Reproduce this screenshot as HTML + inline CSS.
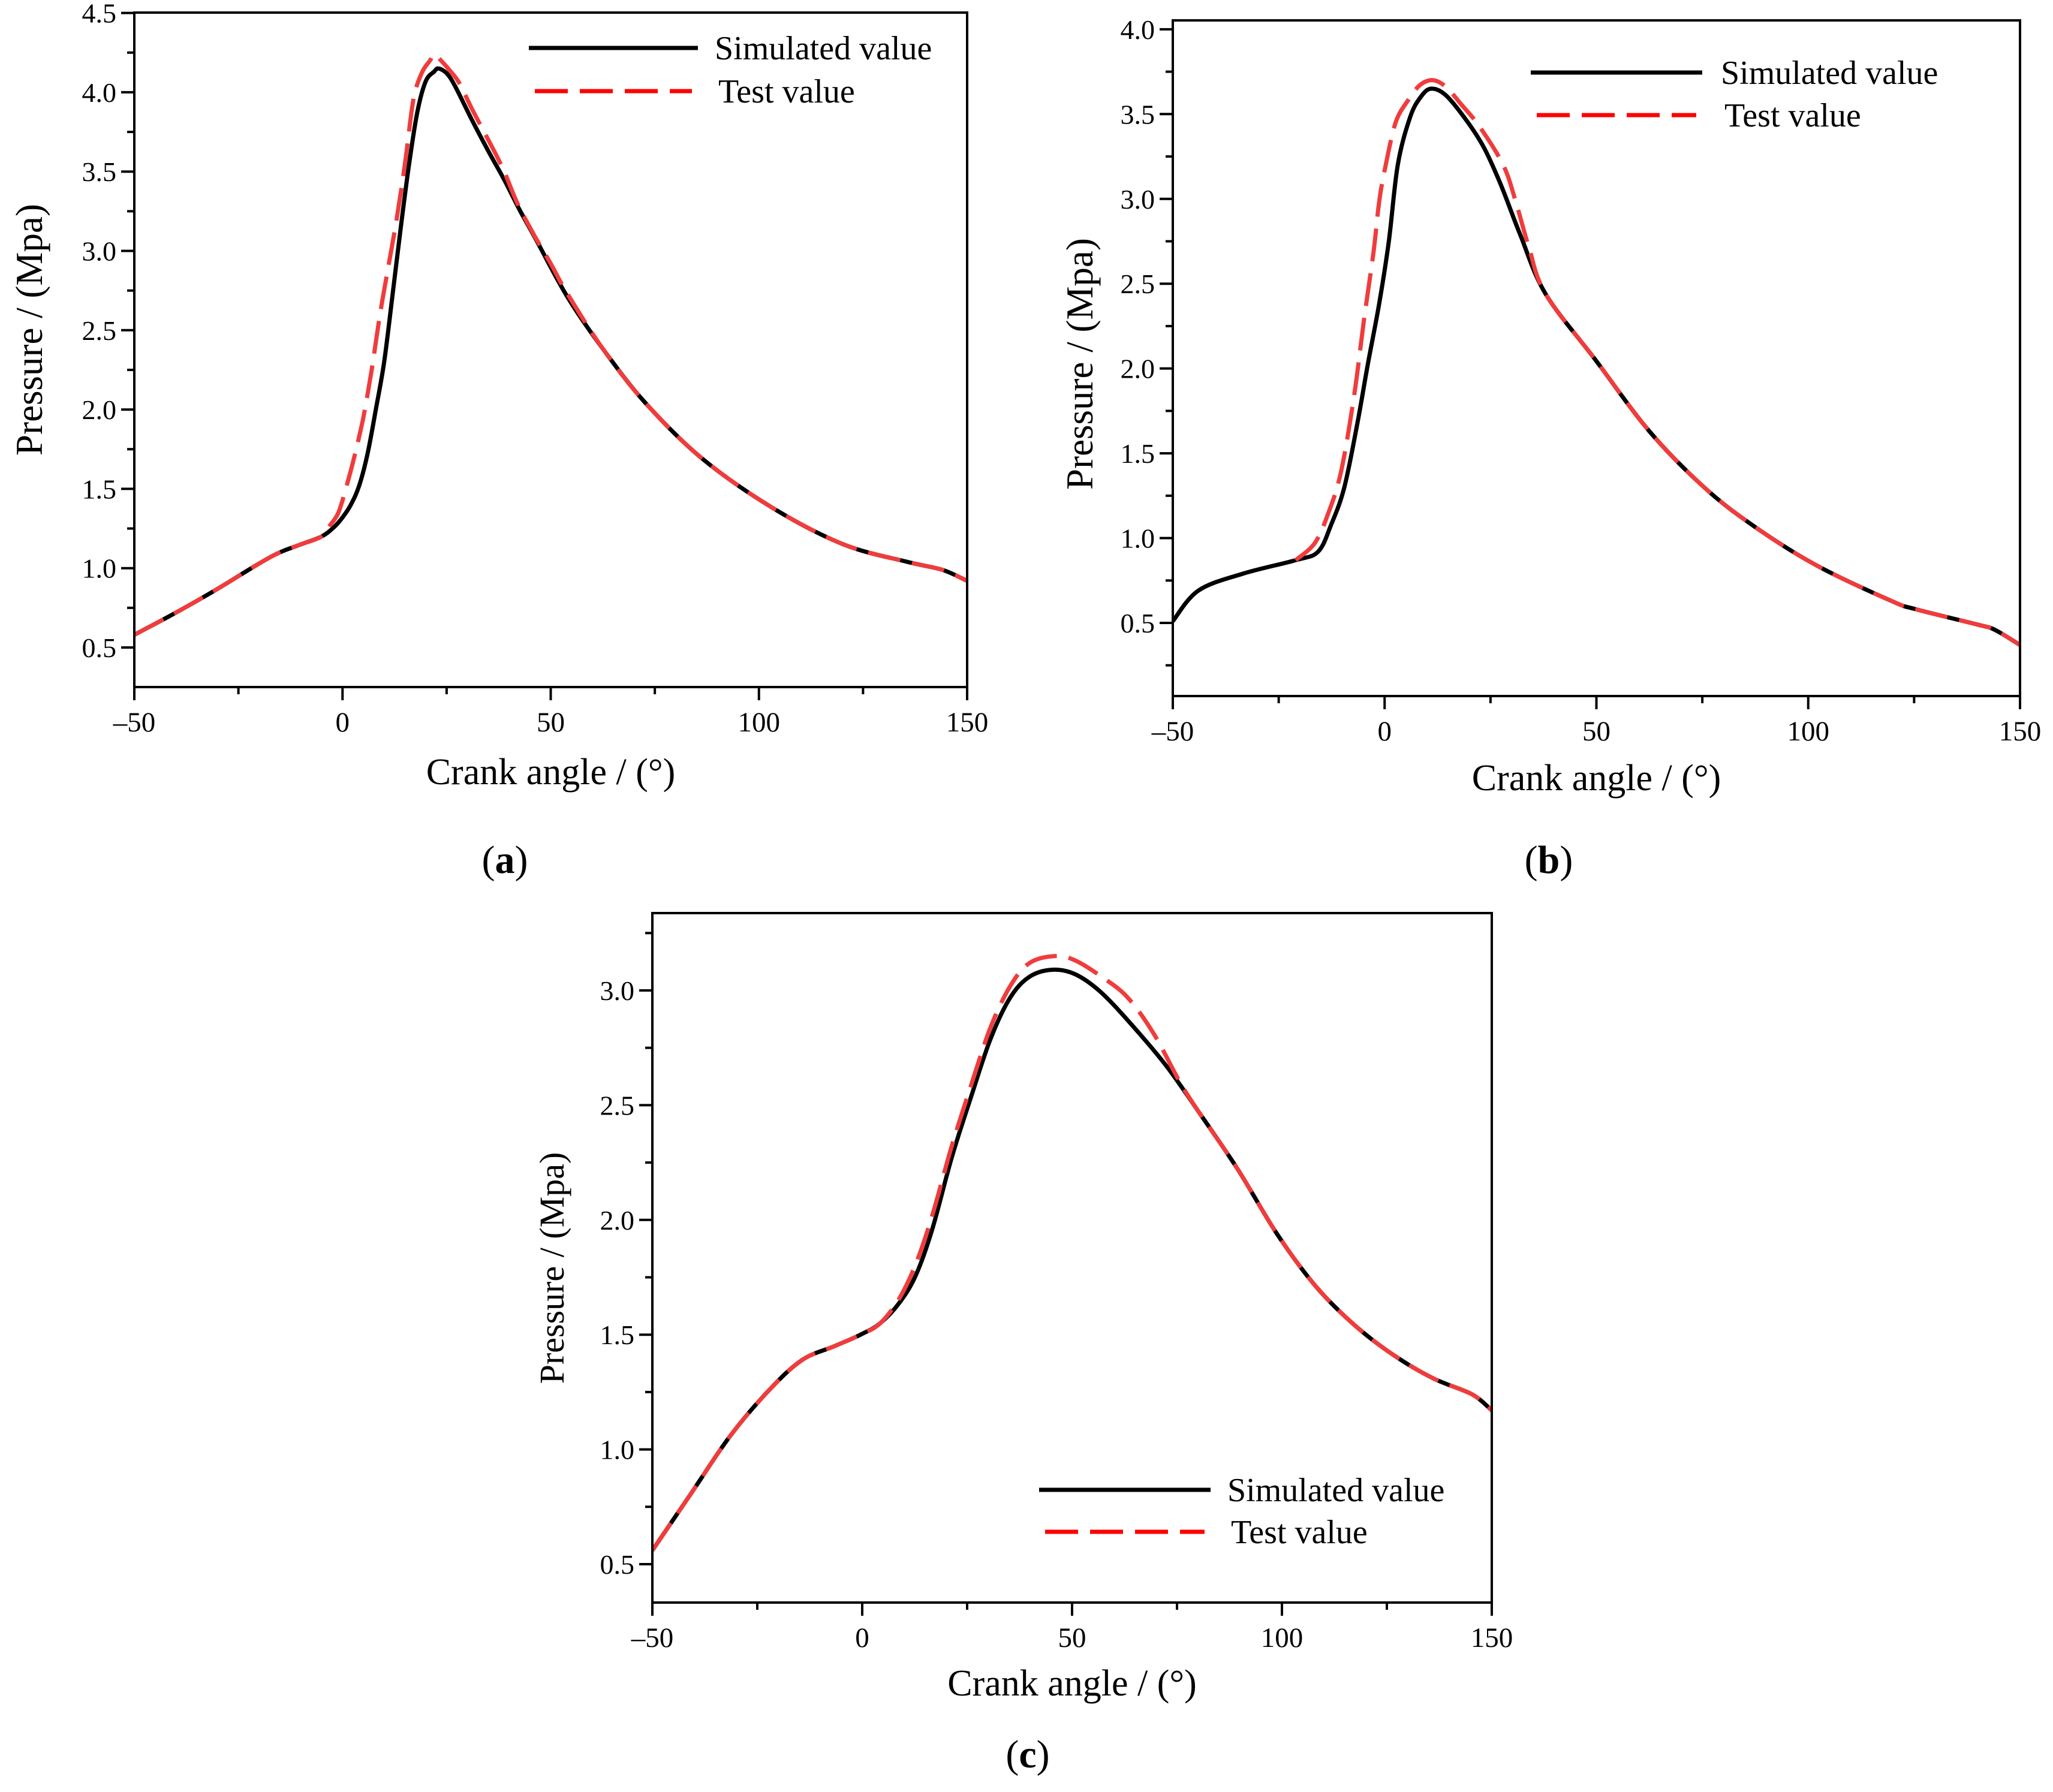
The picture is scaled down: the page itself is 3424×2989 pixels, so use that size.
<!DOCTYPE html>
<html><head><meta charset="utf-8">
<style>
html,body{margin:0;padding:0;background:#fff;}
svg{display:block;font-family:"Liberation Serif",serif;}
</style></head>
<body>
<svg id="fig" width="3424" height="2989" viewBox="0 0 3424 2989" xmlns="http://www.w3.org/2000/svg">
<rect width="3424" height="2989" fill="#fff"/>
</svg>
<script>
// Panel (a) data
const aSimX = [-50,-40,-30,-20,-15,-10,-5,-2,0,2,4,6,8,10,12,14,16,18,20,22,23,25,27,31,35,38.8,42.5,46.5,54,62.6,72.8,86.4,103.3,120.3,135.6,144,150];
const aSimY = [0.58,0.72,0.87,1.03,1.10,1.15,1.20,1.26,1.32,1.40,1.52,1.72,2.0,2.30,2.72,3.15,3.55,3.88,4.07,4.13,4.15,4.12,4.04,3.83,3.63,3.45,3.26,3.07,2.71,2.38,2.04,1.69,1.38,1.15,1.04,0.99,0.92];
const aTestX = [-50,-40,-30,-20,-15,-10,-5,-3,-1,1,3,5,7,9,11,13,15,17,19,21,22,24,26,28,31,34,37,39,42,46,50,54,62.6,72.8,86.4,103.3,120.3,135.6,144,150];
const aTestY = [0.58,0.72,0.87,1.03,1.10,1.15,1.20,1.27,1.35,1.52,1.72,1.95,2.25,2.6,2.9,3.2,3.55,3.95,4.12,4.2,4.24,4.19,4.13,4.06,3.90,3.75,3.60,3.49,3.30,3.10,2.92,2.73,2.38,2.04,1.69,1.38,1.15,1.04,0.99,0.92];
// Panel (b) data
const bSimX = [-50,-44,-33.5,-21,-15.7,-12.6,-9.5,-6.4,-4,-1.3,1,3.1,6,8.5,11,14.5,19.4,23.5,27.5,32,38,49.8,62.5,75.4,87.2,101.9,119.6,125.5,140,144,150];
const bSimY = [0.51,0.69,0.79,0.87,0.92,1.08,1.30,1.68,2.02,2.38,2.75,3.2,3.48,3.60,3.65,3.61,3.46,3.30,3.08,2.79,2.44,2.05,1.63,1.30,1.07,0.84,0.63,0.58,0.49,0.46,0.37];
const bTestX = [-21,-16.5,-13.4,-10.3,-7.2,-4.9,-2.6,-1.3,0.1,2.6,5.5,8.3,11.4,14.5,18,22.3,28,31,34,38,49.8,62.5,75.4,87.2,101.9,119.6,125.5,140,144,150];
const bTestY = [0.87,0.97,1.14,1.39,1.84,2.28,2.69,2.98,3.18,3.45,3.58,3.67,3.70,3.66,3.56,3.43,3.20,2.98,2.72,2.44,2.05,1.63,1.30,1.07,0.84,0.63,0.58,0.49,0.46,0.37];
// Panel (c) data
const cSimX = [-50,-40.7,-31.4,-22.1,-14.3,-6.6,-0.4,4.3,8.9,12.8,16.7,21.3,26,30.6,35.3,39.9,45.3,50.8,57,64.7,72.5,80.2,89.5,98.8,108.1,117.4,126.7,136,145.3,150];
const cSimY = [0.56,0.81,1.06,1.26,1.39,1.45,1.50,1.55,1.64,1.76,1.96,2.27,2.54,2.79,2.97,3.06,3.09,3.07,2.99,2.84,2.67,2.47,2.22,1.94,1.71,1.54,1.41,1.31,1.24,1.17];
const cTestX = [-50,-40.7,-31.4,-22.1,-14.3,-6.6,-0.4,4.3,8.9,12.8,16.7,21.3,26,30.6,35.3,39.9,46.1,50.8,57,63.2,69.5,75.7,80.2,89.5,98.8,108.1,117.4,126.7,136,145.3,150];
const cTestY = [0.56,0.81,1.06,1.26,1.39,1.45,1.50,1.55,1.66,1.81,2.02,2.32,2.59,2.84,3.02,3.12,3.15,3.13,3.06,2.97,2.81,2.60,2.47,2.22,1.94,1.71,1.54,1.41,1.31,1.24,1.17];
// Tick labels
const xTicks = [-50,0,50,100,150];
const xTickLabels = ["\u201350","0","50","100","150"];
const aYTicks = [0.5,1.0,1.5,2.0,2.5,3.0,3.5,4.0,4.5];
const bYTicks = [0.5,1.0,1.5,2.0,2.5,3.0,3.5,4.0];
const cYTicks = [0.5,1.0,1.5,2.0,2.5,3.0];

const NS = "http://www.w3.org/2000/svg";
const svg = document.getElementById('fig');
function mk(tag, attrs, parent){const e=document.createElementNS(NS,tag);for(const k in attrs)e.setAttribute(k,attrs[k]);(parent||svg).appendChild(e);return e;}

function smoothPath(pts){
  let d = "M"+pts[0][0].toFixed(1)+","+pts[0][1].toFixed(1);
  for(let i=0;i<pts.length-1;i++){
    const p0=pts[Math.max(0,i-1)],p1=pts[i],p2=pts[i+1],p3=pts[Math.min(pts.length-1,i+2)];
    const c1x=p1[0]+(p2[0]-p0[0])/6,c1y=p1[1]+(p2[1]-p0[1])/6;
    const c2x=p2[0]-(p3[0]-p1[0])/6,c2y=p2[1]-(p3[1]-p1[1])/6;
    d+=" C"+c1x.toFixed(1)+","+c1y.toFixed(1)+" "+c2x.toFixed(1)+","+c2y.toFixed(1)+" "+p2[0].toFixed(1)+","+p2[1].toFixed(1);
  }
  return d;
}

function panel(cfg){
  const g = mk('g',{});
  
  
  const sx = v => cfg.left + (v+50)/200*(cfg.right-cfg.left);
  const sy = v => cfg.y05 - (v-0.5)*cfg.pxPerUnit;
  const cp = mk('clipPath',{id:'clip-'+cfg.id},g);
  mk('rect',{x:cfg.left,y:cfg.top,width:cfg.right-cfg.left,height:cfg.bottom-cfg.top},cp);
  const ps = mk('path',{d:smoothPath(cfg.simX.map((x,i)=>[sx(x),sy(cfg.simY[i])])),fill:'none',stroke:'#000','stroke-width':7,'stroke-linejoin':'round','clip-path':'url(#clip-'+cfg.id+')'},g);
  
  
  const pt = mk('path',{d:smoothPath(cfg.testX.map((x,i)=>[sx(x),sy(cfg.testY[i])])),fill:'none',stroke:'#f03c3c','stroke-width':7,'stroke-dasharray':'55 20','clip-path':'url(#clip-'+cfg.id+')'},g);
  
  
  const fr = mk('rect',{x:cfg.left,y:cfg.top,width:cfg.right-cfg.left,height:cfg.bottom-cfg.top,fill:'none',stroke:'#000','stroke-width':4},g);
  
  
  for(let v=-50; v<=150; v+=25){
    const major = (v%50===0);
    mk('line',{x1:sx(v),x2:sx(v),y1:cfg.bottom,y2:cfg.bottom+(major?22:12),stroke:'#000','stroke-width':4},g);
  }
  xTicks.forEach((v,i)=>{
    const t = mk('text',{x:sx(v),y:cfg.bottom+74,'font-size':47,'text-anchor':'middle'},g);
    t.textContent = xTickLabels[i];
    
    
  });
  for(let k=0;;k++){
    const v = 0.25 + k*0.25;
    const y = sy(v);
    if (y < cfg.top-1) break;
    if (y > cfg.bottom) continue;
    const major = Math.abs(v*2-Math.round(v*2))<1e-6;
    mk('line',{x1:cfg.left-(major?22:12),x2:cfg.left,y1:y,y2:y,stroke:'#000','stroke-width':4},g);
  }
  cfg.yTicks.forEach(v=>{
    const t = mk('text',{x:cfg.left-30,y:sy(v)+16,'font-size':46,'text-anchor':'end'},g);
    t.textContent = v.toFixed(1);
    
    
  });
  const xt = mk('text',{x:(cfg.left+cfg.right)/2,y:cfg.xTitleY,'font-size':62,'text-anchor':'middle'},g);
  xt.textContent = 'Crank angle / (°)';
  
  
  const yt = mk('text',{x:0,y:0,'font-size':cfg.yTitleSize,'text-anchor':'middle',transform:'translate('+cfg.yTitleX+','+cfg.yTitleY+') rotate(-90)'},g);
  yt.textContent = 'Pressure / (Mpa)';
  
  
  const lg = mk('g',{},g);
  
  
  mk('line',{x1:cfg.legX1,x2:cfg.legX2,y1:cfg.legY1,y2:cfg.legY1,stroke:'#000','stroke-width':7},lg);
  mk('line',{x1:cfg.legX1+10,x2:cfg.legX2-10,y1:cfg.legY2,y2:cfg.legY2,stroke:'#ff0000','stroke-width':7,'stroke-dasharray':'55 20'},lg);
  const l1 = mk('text',{x:cfg.legTX,y:cfg.legY1+19,'font-size':56},lg);
  l1.textContent='Simulated value';
  
  
  const l2 = mk('text',{x:cfg.legTX+6,y:cfg.legY2+19,'font-size':56},lg);
  l2.textContent='Test value';
  
  
  const pl = mk('text',{x:cfg.labX,y:cfg.labY,'font-size':66,'text-anchor':'middle'},g);
  pl.innerHTML = '(<tspan font-weight="bold">'+cfg.id+'</tspan>)';
  
  
}

panel({id:'a',left:224,right:1613,top:21,bottom:1146,y05:1080,pxPerUnit:264.6,
  simX:aSimX,simY:aSimY,testX:aTestX,testY:aTestY,yTicks:aYTicks,
  xTitleY:1308,yTitleX:70,yTitleY:550,yTitleSize:63,
  legX1:882,legX2:1164,legY1:80,legY2:152,legTX:1192,labX:842,labY:1456});
panel({id:'b',left:1956,right:3369,top:34,bottom:1161,y05:1039,pxPerUnit:282.9,
  simX:bSimX,simY:bSimY,testX:bTestX,testY:bTestY,yTicks:bYTicks,
  xTitleY:1318,yTitleX:1822,yTitleY:607,yTitleSize:63,
  legX1:2553,legX2:2839,legY1:121,legY2:192,legTX:2870,labX:2583,labY:1456});
panel({id:'c',left:1088,right:2488,top:1523,bottom:2673,y05:2609,pxPerUnit:382.8,
  simX:cSimX,simY:cSimY,testX:cTestX,testY:cTestY,yTicks:cYTicks,
  xTitleY:2828,yTitleX:940,yTitleY:2115,yTitleSize:58,
  legX1:1733,legX2:2019,legY1:2485,legY2:2555,legTX:2047,labX:1714,labY:2948});
</script>
</body></html>
